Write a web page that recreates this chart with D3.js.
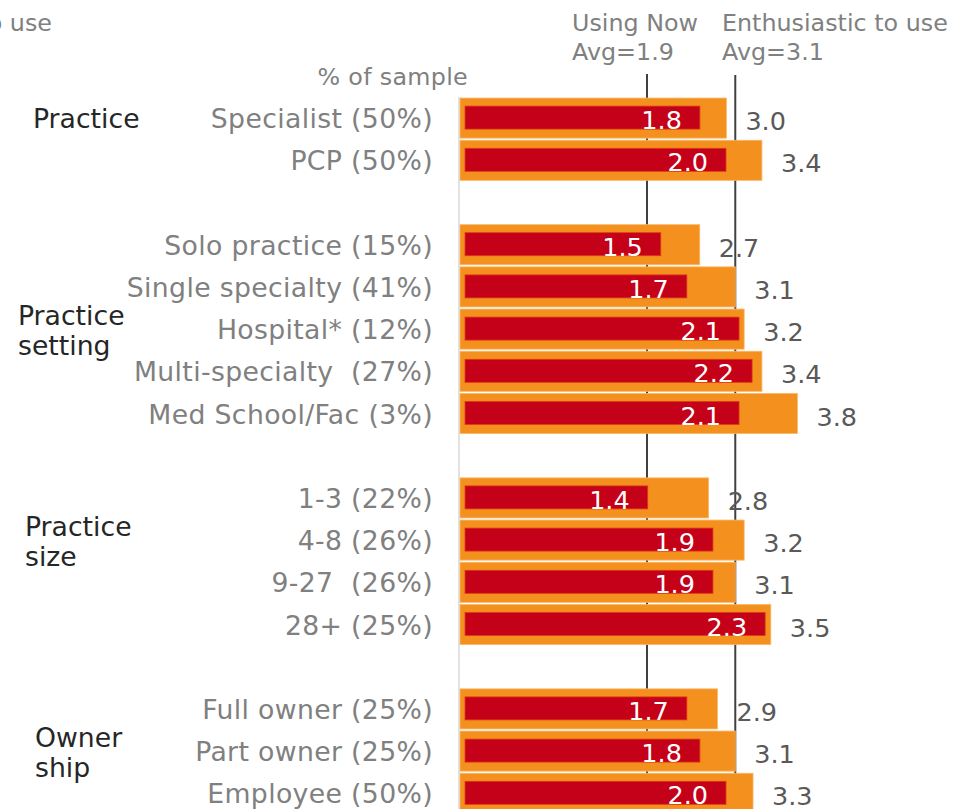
<!DOCTYPE html>
<html>
<head>
<meta charset="utf-8">
<script src="https://cdn.jsdelivr.net/npm/d3@7"></script>
<style>
  html, body { margin: 0; padding: 0; background: #fff; }
  svg { display: block; font-family: "DejaVu Sans", Verdana, sans-serif; }
  text { white-space: pre; }
</style>
</head>
<body>
<svg id="chart" width="955" height="809"></svg>
<script>
// Rows in drawing order; empty strings are spacer rows between groups
const categories = [
  "Specialist (50%)", "PCP (50%)", "",
  "Solo practice (15%)", "Single specialty (41%)", "Hospital* (12%)",
  "Multi-specialty  (27%)", "Med School/Fac (3%)", "",
  "1-3 (22%)", "4-8 (26%)", "9-27  (26%)", "28+ (25%)", "",
  "Full owner (25%)", "Part owner (25%)", "Employee (50%)"
];
const enthusiasticToUse = [3.0, 3.4, null, 2.7, 3.1, 3.2, 3.4, 3.8, null, 2.8, 3.2, 3.1, 3.5, null, 2.9, 3.1, 3.3];
const usingNow          = [1.8, 2.0, null, 1.5, 1.7, 2.1, 2.2, 2.1, null, 1.4, 1.9, 1.9, 2.3, null, 1.7, 1.8, 2.0];

const groupLabels = [
  { lines: ["Practice"], row: 0 },
  { lines: ["Practice", "setting"], row: 5 },
  { lines: ["Practice", "size"], row: 10 },
  { lines: ["Owner", "ship"], row: 15 }
];
const averages = { usingNow: 1.9, enthusiastic: 3.1 };

const svg = d3.select("#chart");
const plotLeft = 460;
const plotTop = 97;
const rowStep = 42.2;

const y = d3.scaleBand()
  .domain(categories.map((c, i) => i))
  .range([plotTop, plotTop + rowStep * categories.length])
  .paddingInner(0.05)
  .paddingOuter(0.025);

// Outer (orange) bars and inner (red) bars use their own length scales
const xEnth = d3.scaleLinear().domain([0, 4]).range([plotLeft, plotLeft + 4 * 88.8]);
const xNow  = d3.scaleLinear().domain([0, 2.5]).range([plotLeft + 5, plotLeft + 5 + 2.5 * 130.5]);
// Position of the "Using Now" average marker along the axis
const xNowMark = d3.scaleLinear().domain([0, averages.usingNow]).range([plotLeft, plotLeft + 187]);

const rows = categories.map((c, i) => ({ i, label: c, enth: enthusiasticToUse[i], now: usingNow[i] }))
  .filter(d => d.label !== "");

const grey = "#808080";
const dark = "#262626";
const mid = d => y(d) + y.bandwidth() / 2;

// baseline axis
svg.append("line")
  .attr("x1", plotLeft - 1).attr("x2", plotLeft - 1)
  .attr("y1", plotTop).attr("y2", 809)
  .attr("stroke", "#d9d9d9").attr("stroke-width", 1.5);

// average reference lines (behind bars)
const refLines = [
  { x: xNowMark(averages.usingNow), y1: 74 },
  { x: xEnth(averages.enthusiastic), y1: 75 }
];
svg.selectAll("line.ref").data(refLines).join("line")
  .attr("class", "ref")
  .attr("x1", d => d.x).attr("x2", d => d.x)
  .attr("y1", d => d.y1).attr("y2", 809)
  .attr("stroke", "#404040").attr("stroke-width", 2);

// orange bars
svg.selectAll("rect.enth").data(rows).join("rect")
  .attr("class", "enth")
  .attr("x", xEnth(0))
  .attr("y", d => y(d.i))
  .attr("width", d => xEnth(d.enth) - xEnth(0))
  .attr("height", y.bandwidth())
  .attr("fill", "#F4901E")
  .attr("stroke", "#F9B86A").attr("stroke-width", 0.8);

// red bars
const redH = 23;
svg.selectAll("rect.now").data(rows).join("rect")
  .attr("class", "now")
  .attr("x", xNow(0))
  .attr("y", d => mid(d.i) - redH / 2 - 0.5)
  .attr("width", d => xNow(d.now) - xNow(0))
  .attr("height", redH)
  .attr("fill", "#C50019")
  .attr("stroke", "#DC3A16").attr("stroke-width", 0.8);

// red values
svg.selectAll("text.nowv").data(rows).join("text")
  .attr("class", "nowv")
  .attr("x", d => xNow(d.now) - 18)
  .attr("y", d => mid(d.i) + 11)
  .attr("text-anchor", "end")
  .attr("font-size", 25.5)
  .attr("fill", "#ffffff")
  .text(d => d.now.toFixed(1));

// orange values
svg.selectAll("text.enthv").data(rows).join("text")
  .attr("class", "enthv")
  .attr("x", d => xEnth(d.enth) + 19)
  .attr("y", d => mid(d.i) + 12)
  .attr("font-size", 25.5)
  .attr("fill", "#595959")
  .text(d => d.enth.toFixed(1));

// category labels
svg.selectAll("text.cat").data(rows).join("text")
  .attr("class", "cat")
  .attr("x", 433)
  .attr("y", d => mid(d.i) + 10)
  .attr("text-anchor", "end")
  .attr("font-size", 26.7)
  .attr("letter-spacing", 0.35)
  .attr("fill", grey)
  .text(d => d.label);

// group labels
const groupX = [33, 18, 25, 35];
svg.selectAll("text.grp").data(groupLabels).join("text")
  .attr("class", "grp")
  .attr("font-size", 26.7)
  .attr("fill", dark)
  .each(function (d, k) {
    const base = mid(d.row) + 10;
    const first = d.lines.length === 1 ? base : base - 14;
    d.lines.forEach((ln, j) => {
      d3.select(this).append("tspan")
        .attr("x", groupX[k]).attr("y", first + j * 30).text(ln);
    });
  });

// header annotations
const header = svg.append("g").attr("font-size", 23.8).attr("fill", grey);
header.append("text").attr("x", 52).attr("y", 31).attr("text-anchor", "end").text("Enthusiastic to use");
header.append("text").attr("x", 572).attr("y", 31).text("Using Now");
header.append("text").attr("x", 572).attr("y", 60).text("Avg=" + averages.usingNow.toFixed(1));
header.append("text").attr("x", 722).attr("y", 31).text("Enthusiastic to use");
header.append("text").attr("x", 722).attr("y", 60).text("Avg=" + averages.enthusiastic.toFixed(1));
header.append("text").attr("x", 468).attr("y", 85).attr("text-anchor", "end")
  .attr("letter-spacing", 0.3).text("% of sample");
</script>
</body>
</html>
